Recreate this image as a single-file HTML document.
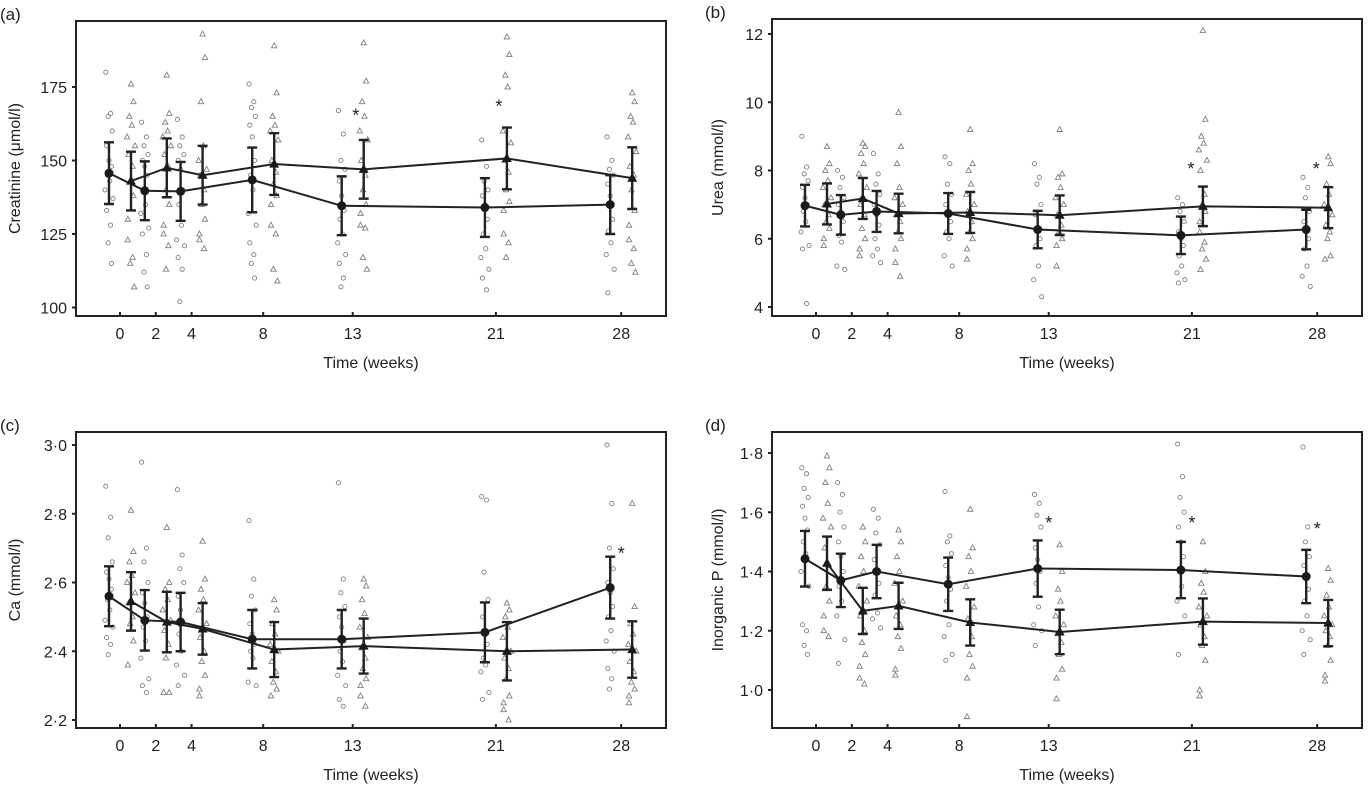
<!DOCTYPE html>
<html><head><meta charset="utf-8">
<style>
html,body{margin:0;padding:0;background:#fff;}
svg{display:block;font-family:"Liberation Sans",Arial,sans-serif;}
</style></head>
<body>
<svg id="fig" width="1370" height="791" viewBox="0 0 1370 791" xmlns="http://www.w3.org/2000/svg"></svg>
<script>
// ---- shared data ----
const weeks = [0, 2, 4, 8, 13, 21, 28];

// Panel (a) creatinine
const aMeanCirc = [145.7, 139.7, 139.5, 143.4, 134.6, 134, 135];
const aErrCirc  = [10.5, 10, 10, 11, 10, 10, 10];
const aMeanTri  = [143, 147.5, 145, 148.8, 147, 150.7, 144];
const aErrTri   = [10, 10, 10, 10.5, 10, 10.5, 10.5];
const aPtsCirc = [
 [180,166,165,160,155,150,148,145,143,140,137,133,128,122,115],
 [163,158,155,152,150,148,145,140,135,132,127,125,118,112,107],
 [164,158,155,152,150,147,140,135,128,123,121,117,113,102],
 [176,170,168,165,162,158,150,145,140,132,128,122,118,115,110],
 [167,159,150,147,143,138,133,130,125,122,118,115,110,107],
 [157,148,143,140,138,135,130,125,120,117,113,110,106],
 [158,150,147,145,142,138,130,126,122,118,113,105]];
const aPtsTri = [
 [176,170,165,162,158,155,152,148,143,138,130,123,117,115,107],
 [179,166,163,160,158,155,152,148,140,135,128,125,121,113],
 [193,185,170,155,150,147,145,140,135,130,125,123,120],
 [189,173,165,162,160,157,150,146,142,138,135,128,125,113,109],
 [190,177,170,165,160,157,150,145,140,135,132,128,127,117,113],
 [192,186,179,175,160,156,150,146,140,136,133,125,122,117],
 [173,170,165,163,158,153,148,145,140,133,128,123,120,115,112]];
const aStars = [[13, 166], [21, 169]];
const aTicks = [100, 125, 150, 175];

// Panel (b) urea
const bMeanCirc = [6.97, 6.7, 6.8, 6.74, 6.27, 6.1, 6.27];
const bErrCirc  = [0.61, 0.58, 0.6, 0.6, 0.55, 0.55, 0.58];
const bMeanTri  = [7.02, 7.18, 6.74, 6.77, 6.69, 6.95, 6.91];
const bErrTri   = [0.6, 0.6, 0.58, 0.6, 0.58, 0.58, 0.6];
const bPtsCirc = [
 [9.0,8.1,7.9,7.7,7.5,7.2,7.0,6.8,6.5,6.2,5.8,5.7,4.1],
 [8.0,7.8,7.5,7.2,7.0,6.8,6.5,6.1,5.9,5.2,5.1],
 [8.5,7.9,7.6,7.3,7.0,6.7,6.4,6.0,5.7,5.5,5.3],
 [8.4,8.2,7.6,7.3,7.0,6.8,6.5,6.2,6.0,5.5,5.2],
 [8.2,7.8,7.6,7.0,6.7,6.3,6.0,5.8,5.2,4.8,4.3],
 [7.2,7.0,6.8,6.5,6.2,6.0,5.8,5.5,5.2,5.0,4.8,4.7],
 [7.8,7.5,7.2,6.8,6.5,6.2,6.0,5.7,5.2,4.9,4.6]];
const bPtsTri = [
 [8.7,8.2,8.0,7.7,7.5,7.2,7.0,6.7,6.5,6.3,6.0,5.8],
 [8.8,8.7,8.5,8.2,7.9,7.5,7.0,6.7,6.3,6.0,5.7,5.5],
 [9.7,8.7,8.2,7.5,7.2,7.0,6.7,6.5,6.2,6.0,5.7,5.3,4.9],
 [9.2,8.2,8.0,7.6,7.3,7.0,6.8,6.5,6.2,6.0,5.7,5.4],
 [9.2,7.9,7.8,7.5,7.2,7.0,6.7,6.4,6.2,6.0,5.8,5.2],
 [12.1,9.5,9.0,8.8,8.6,8.3,8.0,7.3,7.0,6.8,6.5,6.2,5.9,5.7,5.4,5.1],
 [8.4,8.2,7.6,7.3,7.0,6.7,6.4,6.2,6.0,5.5,5.4]];
const bStars = [[21, 8.1], [28, 8.1]];
const bTicks = [4, 6, 8, 10, 12];

// Panel (c) calcium
const cMeanCirc = [2.56, 2.49, 2.485, 2.435, 2.435, 2.455, 2.585];
const cErrCirc  = [0.087, 0.088, 0.085, 0.085, 0.085, 0.087, 0.09];
const cMeanTri  = [2.545, 2.485, 2.465, 2.405, 2.415, 2.4, 2.405];
const cErrTri   = [0.085, 0.088, 0.075, 0.08, 0.08, 0.085, 0.082];
const cPtsCirc = [
 [2.88,2.79,2.73,2.66,2.63,2.61,2.58,2.55,2.52,2.49,2.47,2.44,2.42,2.39],
 [2.95,2.70,2.66,2.60,2.57,2.54,2.50,2.47,2.43,2.38,2.32,2.30,2.28],
 [2.87,2.68,2.64,2.60,2.56,2.52,2.48,2.45,2.40,2.36,2.33,2.30],
 [2.78,2.61,2.56,2.52,2.48,2.45,2.42,2.40,2.38,2.31,2.30],
 [2.89,2.61,2.57,2.53,2.50,2.47,2.43,2.40,2.37,2.33,2.30,2.26,2.24],
 [2.85,2.84,2.63,2.55,2.50,2.46,2.42,2.38,2.36,2.34,2.28,2.26],
 [3.00,2.83,2.70,2.64,2.60,2.57,2.53,2.50,2.46,2.43,2.40,2.35,2.32,2.29]];
const cPtsTri = [
 [2.81,2.69,2.66,2.62,2.60,2.57,2.54,2.50,2.48,2.43,2.36],
 [2.76,2.60,2.58,2.55,2.52,2.49,2.46,2.42,2.38,2.28,2.28],
 [2.72,2.61,2.58,2.55,2.52,2.48,2.44,2.40,2.37,2.33,2.29,2.27],
 [2.55,2.52,2.48,2.45,2.42,2.40,2.37,2.34,2.31,2.29,2.27],
 [2.61,2.59,2.55,2.51,2.47,2.44,2.41,2.38,2.35,2.32,2.30,2.27,2.24],
 [2.54,2.52,2.50,2.47,2.44,2.40,2.38,2.35,2.32,2.27,2.25,2.23,2.20],
 [2.83,2.53,2.48,2.45,2.42,2.40,2.37,2.34,2.31,2.29,2.27,2.25]];
const cStars = [[28, 2.69]];
const cTicks = [2.2, 2.4, 2.6, 2.8, 3.0];

// Panel (d) inorganic P
const dMeanCirc = [1.443, 1.37, 1.40, 1.357, 1.41, 1.405, 1.383];
const dErrCirc  = [0.094, 0.09, 0.09, 0.09, 0.095, 0.095, 0.09];
const dMeanTri  = [1.428, 1.267, 1.284, 1.228, 1.196, 1.231, 1.226];
const dErrTri   = [0.09, 0.078, 0.078, 0.078, 0.075, 0.078, 0.078];
const dPtsCirc = [
 [1.75,1.73,1.68,1.65,1.62,1.58,1.54,1.50,1.46,1.40,1.35,1.22,1.20,1.15,1.12],
 [1.70,1.66,1.60,1.55,1.50,1.45,1.40,1.35,1.30,1.25,1.17,1.09],
 [1.61,1.58,1.53,1.49,1.44,1.40,1.36,1.32,1.26,1.24,1.21],
 [1.67,1.52,1.50,1.46,1.42,1.38,1.34,1.30,1.22,1.18,1.12,1.10],
 [1.66,1.63,1.59,1.55,1.48,1.44,1.40,1.36,1.28,1.22,1.20,1.15],
 [1.83,1.72,1.65,1.60,1.55,1.50,1.45,1.40,1.35,1.30,1.25,1.12],
 [1.82,1.55,1.50,1.45,1.42,1.38,1.34,1.30,1.25,1.20,1.17,1.12]];
const dPtsTri = [
 [1.79,1.75,1.70,1.63,1.58,1.55,1.48,1.42,1.35,1.30,1.25,1.20,1.18],
 [1.55,1.50,1.45,1.40,1.35,1.30,1.25,1.20,1.16,1.12,1.08,1.04,1.02],
 [1.54,1.50,1.45,1.40,1.36,1.30,1.25,1.22,1.18,1.14,1.07,1.05],
 [1.61,1.48,1.45,1.40,1.35,1.28,1.24,1.18,1.12,1.08,1.04,0.91],
 [1.49,1.40,1.34,1.30,1.25,1.22,1.19,1.16,1.12,1.07,1.04,0.97],
 [1.50,1.40,1.36,1.33,1.28,1.25,1.22,1.18,1.15,1.10,1.00,0.98],
 [1.41,1.37,1.32,1.28,1.25,1.22,1.20,1.18,1.15,1.10,1.05,1.03]];
const dStars = [[13, 1.57], [21, 1.57], [28, 1.55]];
const dTicks = [1.0, 1.2, 1.4, 1.6, 1.8];

const NS = "http://www.w3.org/2000/svg";
const svg = document.getElementById("fig");
const jit = [-4, 2, -1, 4, -3, 0, 3, -2, 1, -5, 5, -3, 2, -1, 3, -4];

function mk(tag, attrs, parent) {
  const e = document.createElementNS(NS, tag);
  for (const k in attrs) e.setAttribute(k, attrs[k]);
  (parent || svg).appendChild(e);
  return e;
}
function triPts(cx, cy, s) {
  return `${cx},${cy - s} ${cx - s * 0.9},${cy + s * 0.65} ${cx + s * 0.9},${cy + s * 0.65}`;
}
function fmt(v, dec) { return dec ? v.toFixed(1).replace(".", "\u00B7") : String(v); }

function panel(cfg) {
  const g = mk("g", {});
  
  
  const L = cfg.left, R = cfg.right, T = cfg.top, B = cfg.bottom;
  const xs = w => L + 44 + w * 17.9;
  const ys = v => cfg.y0px + (v - cfg.v0) * (cfg.y1px - cfg.y0px) / (cfg.v1 - cfg.v0);
  const off = 11;

  const sc = mk("g", { fill: "none", stroke: "#808080", "stroke-width": "0.9" }, g);
  
  
  weeks.forEach((w, i) => {
    cfg.ptsC[i].forEach((v, j) => {
      const c = mk("circle", { cx: xs(w) - off + jit[j % jit.length] * 0.8, cy: ys(v), r: 2.1 }, sc);
      
      
    });
    cfg.ptsT[i].forEach((v, j) => {
      const t = mk("polygon", { points: triPts(xs(w) + off + jit[(j + 5) % jit.length] * 0.8, ys(v), 3) }, sc);
      
      
    });
  });

  const lc = mk("polyline", { fill: "none", stroke: "#222", "stroke-width": 2,
    points: weeks.map((w, i) => `${xs(w) - off},${ys(cfg.mC[i])}`).join(" ") }, g);
  
  
  const lt = mk("polyline", { fill: "none", stroke: "#222", "stroke-width": 2,
    points: weeks.map((w, i) => `${xs(w) + off},${ys(cfg.mT[i])}`).join(" ") }, g);
  
  

  weeks.forEach((w, i) => {
    [[xs(w) - off, cfg.mC[i], cfg.eC[i], "c"], [xs(w) + off, cfg.mT[i], cfg.eT[i], "t"]].forEach(([x, m, e, k]) => {
      const eb = mk("path", { d: `M${x},${ys(m + e)}V${ys(m - e)}M${x - 5},${ys(m + e)}H${x + 5}M${x - 5},${ys(m - e)}H${x + 5}`,
        stroke: "#222", "stroke-width": 2.4, fill: "none" }, g);
      
      
      let mkr;
      if (k === "c") mkr = mk("circle", { cx: x, cy: ys(m), r: 4.5, fill: "#1a1a1a" }, g);
      else mkr = mk("polygon", { points: triPts(x, ys(m), 5.5), fill: "#1a1a1a" }, g);
      
      
    });
  });

  cfg.stars.forEach(([w, v]) => {
    const s = mk("text", { x: xs(w) + cfg.starDx, y: ys(v) + 8, "font-size": 18, "text-anchor": "middle", fill: "#222" }, g);
    s.textContent = "*";
    
    
  });

  const fr = mk("rect", { x: L, y: T, width: R - L, height: B - T, fill: "none", stroke: "#222", "stroke-width": 2 }, g);
  
  

  weeks.forEach(w => {
    const tk = mk("line", { x1: xs(w), x2: xs(w), y1: B, y2: B - 4, stroke: "#222", "stroke-width": 2 }, g);
    
    
    const tl = mk("text", { x: xs(w), y: B + 23, "font-size": 16, "text-anchor": "middle", fill: "#222" }, g);
    tl.textContent = String(w);
    
    
  });
  const xt = mk("text", { x: (L + R) / 2, y: B + 52, "font-size": 16, "text-anchor": "middle", fill: "#222" }, g);
  xt.textContent = "Time (weeks)";
  
  

  cfg.ticks.forEach(v => {
    const tk = mk("line", { x1: L, x2: L - 4, y1: ys(v), y2: ys(v), stroke: "#222", "stroke-width": 2 }, g);
    
    
    const tl = mk("text", { x: L - 9, y: ys(v) + 6, "font-size": 16, "text-anchor": "end", fill: "#222" }, g);
    tl.textContent = fmt(v, cfg.dec);
    
    
  });
  const yt = mk("text", { x: 0, y: 0, "font-size": 16, "text-anchor": "middle", fill: "#222",
    transform: `translate(${cfg.titleX},${(T + B) / 2}) rotate(-90)` }, g);
  yt.textContent = cfg.ytitle;
  
  

  const pl = mk("text", { x: cfg.labX, y: T - 1, "font-size": 17, fill: "#222" }, g);
  pl.textContent = cfg.label;
  
  
}

panel({ name: "panel-a-creatinine", left: 76, right: 666, top: 21, bottom: 316,
  v0: 100, y0px: 307.5, v1: 175, y1px: 87, ticks: aTicks, dec: false,
  mC: aMeanCirc, eC: aErrCirc, mT: aMeanTri, eT: aErrTri, ptsC: aPtsCirc, ptsT: aPtsTri,
  stars: aStars, starDx: 3, ytitle: "Creatinine (\u03BCmol/l)", titleX: 20, label: "(a)", labX: 0 });
panel({ name: "panel-b-urea", left: 772, right: 1362, top: 19, bottom: 316,
  v0: 4, y0px: 307, v1: 12, y1px: 34, ticks: bTicks, dec: false,
  mC: bMeanCirc, eC: bErrCirc, mT: bMeanTri, eT: bErrTri, ptsC: bPtsCirc, ptsT: bPtsTri,
  stars: bStars, starDx: -1, ytitle: "Urea (mmol/l)", titleX: 723, label: "(b)", labX: 705 });
panel({ name: "panel-c-calcium", left: 76, right: 666, top: 432, bottom: 728,
  v0: 2.2, y0px: 720, v1: 3.0, y1px: 445, ticks: cTicks, dec: true,
  mC: cMeanCirc, eC: cErrCirc, mT: cMeanTri, eT: cErrTri, ptsC: cPtsCirc, ptsT: cPtsTri,
  stars: cStars, starDx: 0, ytitle: "Ca (mmol/l)", titleX: 20, label: "(c)", labX: 0 });
panel({ name: "panel-d-phosphate", left: 772, right: 1362, top: 432, bottom: 728,
  v0: 1.0, y0px: 690, v1: 1.8, y1px: 453, ticks: dTicks, dec: true,
  mC: dMeanCirc, eC: dErrCirc, mT: dMeanTri, eT: dErrTri, ptsC: dPtsCirc, ptsT: dPtsTri,
  stars: dStars, starDx: 0, ytitle: "Inorganic P (mmol/l)", titleX: 723, label: "(d)", labX: 705 });
</script>
</body></html>
